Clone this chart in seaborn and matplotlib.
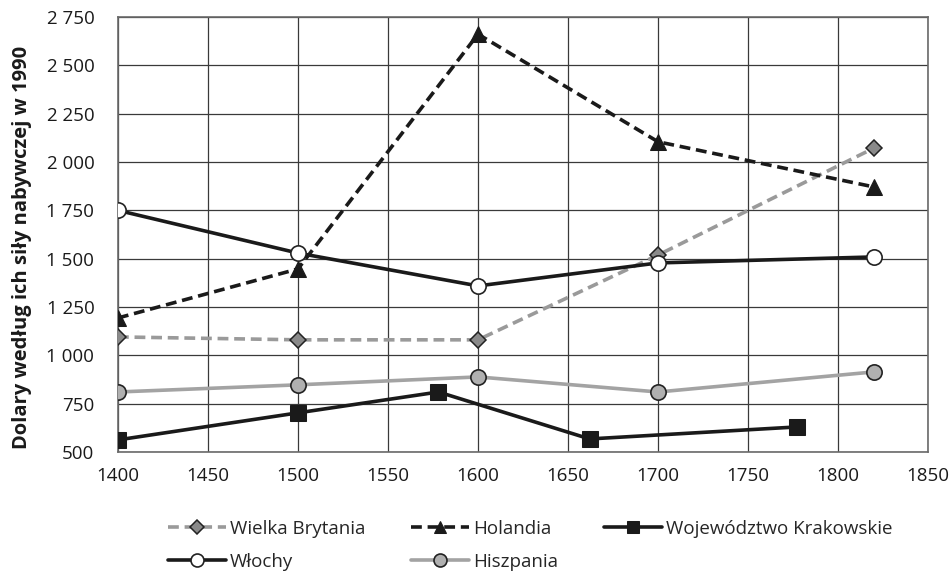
import matplotlib
matplotlib.use("Agg")
import matplotlib.pyplot as plt
import matplotlib.ticker as mticker
import seaborn as sns

# Data
years = [1400, 1500, 1600, 1700, 1820]
wielka_brytania = [1095, 1080, 1080, 1519, 2073]
holandia = [1193, 1447, 2662, 2105, 1871]
wlochy = [1750, 1529, 1359, 1478, 1509]
hiszpania = [810, 847, 888, 810, 914]
krakow_years = [1400, 1500, 1578, 1662, 1777]
krakowskie = [562, 702, 810, 567, 629]

sns.set_theme(style="white")
plt.rcParams["font.family"] = ["Open Sans", "DejaVu Sans"]

fig, ax = plt.subplots(figsize=(9.51, 5.72), dpi=100)
fig.subplots_adjust(left=0.124, right=0.976, top=0.970, bottom=0.210)

edge = "#222222"
sns.lineplot(x=years, y=wielka_brytania, ax=ax, color="#9a9a9a", lw=2.6,
             linestyle=(0, (3, 1.6)), marker="D", markersize=8.5,
             markerfacecolor="#8a8a8a", markeredgecolor=edge, markeredgewidth=1.1,
             label="Wielka Brytania", zorder=3)
sns.lineplot(x=years, y=wlochy, ax=ax, color="#1a1a1a", lw=2.6,
             marker="o", markersize=11, markerfacecolor="white",
             markeredgecolor=edge, markeredgewidth=1.2, label="Włochy", zorder=4)
sns.lineplot(x=years, y=holandia, ax=ax, color="#1a1a1a", lw=2.6,
             linestyle=(0, (3, 1.6)), marker="^", markersize=11,
             markerfacecolor="#1a1a1a", markeredgecolor="#1a1a1a",
             label="Holandia", zorder=4)
sns.lineplot(x=years, y=hiszpania, ax=ax, color="#a3a3a3", lw=2.6,
             marker="o", markersize=11, markerfacecolor="#b0b0b0",
             markeredgecolor=edge, markeredgewidth=1.2, label="Hiszpania", zorder=3)
sns.lineplot(x=krakow_years, y=krakowskie, ax=ax, color="#1a1a1a", lw=2.6,
             marker="s", markersize=11, markerfacecolor="#1a1a1a",
             markeredgecolor="#1a1a1a", label="Województwo Krakowskie", zorder=4)

ax.set_xlim(1400, 1850)
ax.set_ylim(500, 2750)
ax.set_xticks(range(1400, 1851, 50))
ax.set_yticks(range(500, 2751, 250))
ax.yaxis.set_major_formatter(mticker.FuncFormatter(lambda v, p: f"{v:,.0f}".replace(",", " ")))
ax.tick_params(length=0, labelsize=13.5, colors="#1a1a1a")
ax.tick_params(axis="x", pad=11)
ax.tick_params(axis="y", pad=17)
ax.grid(True, color="#3a3a3a", lw=0.9)
for s in ax.spines.values():
    s.set_color("#6a6a6a")
    s.set_linewidth(1.2)

ax.set_xlabel("")
ax.set_ylabel("Dolary według ich siły nabywczej w 1990", fontsize=14.5,
              fontweight="bold", color="#1a1a1a")
ax.yaxis.set_label_coords(-0.106, 0.47)

ax.legend(loc="upper left", bbox_to_anchor=(0.062, -0.156), ncol=3, frameon=False,
          fontsize=13.5, handlelength=3.1, columnspacing=2.45, labelspacing=0.8,
          handletextpad=0.2, borderpad=0, borderaxespad=0, markerscale=0.85)

fig.savefig("out.png", dpi=100)
